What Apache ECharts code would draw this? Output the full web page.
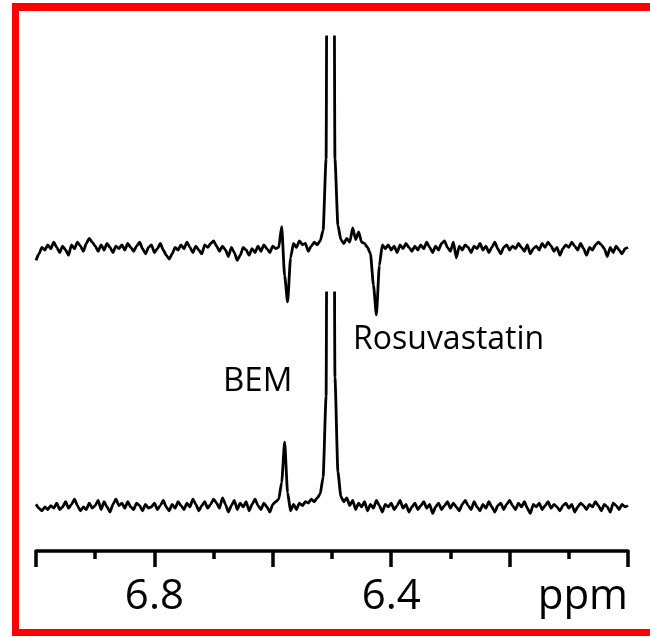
<!DOCTYPE html>
<html lang="en">
<head>
    <meta charset="UTF-8">
    <title>NMR spectra</title>
    <script src="https://cdn.jsdelivr.net/npm/echarts@6/dist/echarts.min.js"></script>
    <style>
        html, body { margin: 0; padding: 0; background: #fff; }
    </style>
</head>
<body>
    <div id="main" style="width: 650px; height: 637px;"></div>
    <script type="text/javascript">
        // chemical shift grid of the spectra (ppm), 0.005 ppm per point from 7.0 down to 6.0
        var ppmStart = 7.0
        var ppmStep = 0.005

        // upper spectrum (intensity, arbitrary units)
        var topSpectrum = [
            -8, -3, 2, 0, 4, 1, 6, 2, -2, 3,
            0, -4, 4, 1, 6, 3, -1, 5, 9, 6,
            3, -1, 4, 0, 5, 2, -2, 3, 1, 4,
            0, 5, 2, -1, 3, 6, 1, -3, 2, 4,
            -2, 1, 5, 0, -4, -7, -3, 2, 0, 4,
            1, 6, 2, -2, 3, 0, -3, 4, 2, 5,
            7, 3, -1, 3, 0, -5, 2, -2, -8, -4,
            2, 0, -4, 1, -2, 3, -1, 4, 1, -2,
            3, 1, 2, 18, -20, -40, -6, 5, 2, 7,
            4, 5, -1, 3, 6, 4, 7, 15, 70, 900,
            900, 70, 19, 8, 5, 9, 6, 17, 8, 14,
            6, 5, 2, -3, -27, -50, -12, 4, 1, 4,
            0, 3, -2, 4, 1, 5, 2, -1, 3, 0,
            4, 1, 6, 2, -2, 3, 0, 5, 7, 2,
            -1, 6, -6, 3, 0, 4, 2, -2, 3, 1,
            5, 0, 3, -2, 2, 6, 1, -3, 2, 4,
            0, 3, 1, 5, 2, -1, 4, -3, 1, 3,
            0, 5, 2, 6, 3, -1, 2, -4, 1, 4,
            2, 6, 3, 0, 5, 1, -4, 2, 0, 4,
            6, 4, 1, -5, 2, -2, 3, 0, -3, 1,
            2
        ]

        // lower spectrum
        var bottomSpectrum = [
            2, -1, -3, 0, -2, 1, -1, 3, -2, 0,
            4, -1, 2, 6, 1, -3, 0, -2, 3, -1,
            1, 5, -2, 4, 0, -4, 2, 6, 1, 3,
            -1, 4, 0, -2, 3, 1, -3, 2, -1, 0,
            3, -2, 1, 5, 0, -3, 2, -1, 4, 1,
            -2, 3, 0, 6, 2, -3, 1, 4, -1, 2,
            6, 3, -1, 7, 2, -4, 1, 5, -2, 3,
            0, 4, -3, 2, 6, 1, -2, 3, 0, -4,
            2, 4, 6, 19, 50, 11, -3, 2, -2, 3,
            1, 4, 3, 6, 4, 7, 10, 23, 85, 900,
            900, 100, 27, 8, 4, 7, 1, 5, -2, 3,
            0, 4, -3, 2, -1, 5, 1, -4, 2, 0,
            3, -2, 1, 5, -1, 2, -4, 0, 3, -2,
            1, 4, -1, 2, -5, 0, 3, -2, 1, 4,
            -1, 3, 0, -3, 2, 5, 1, -2, 4, 0,
            -3, 2, -1, 4, 0, -4, 1, 3, -2, 2,
            5, 1, -2, 3, 0, 4, -1, -5, 2, 0,
            3, -2, 1, 4, -1, 2, 0, -3, 1, 3,
            -1, 2, -4, 0, 3, 1, -2, 2, 0, 4,
            1, -3, 2, 0, -4, 3, 1, -2, 2, 0,
            1
        ]

        var tickLabels = { '6.8': '6.8', '6.4': '6.4', '6.0': 'ppm' }
        var peakNames = ['Rosuvastatin', 'BEM']

        function toPairs(arr) {
            return arr.map(function (v, i) {
                return [+(ppmStart - i * ppmStep).toFixed(3), v]
            })
        }

        var myChart = echarts.init(document.getElementById('main'))
        var font = '"Open Sans", "Liberation Sans", sans-serif'

        var option = {
            animation: false,
            backgroundColor: '#ffffff',
            grid: [
                { left: 36, right: 22, top: 37, height: 300 },
                { left: 36, right: 22, top: 293, height: 258 }
            ],
            xAxis: [
                {
                    gridIndex: 0, type: 'value', min: 6.0, max: 7.0, inverse: true, show: false
                },
                {
                    gridIndex: 1, type: 'value', min: 6.0, max: 7.0, interval: 0.2, inverse: true,
                    axisLine: { show: true, onZero: false, lineStyle: { color: '#000', width: 3.5 } },
                    axisTick: { show: true, length: 16, lineStyle: { color: '#000', width: 3.5 } },
                    minorTick: { show: true, splitNumber: 2, length: 8, lineStyle: { color: '#000', width: 3.5 } },
                    splitLine: { show: false },
                    axisLabel: {
                        show: true,
                        margin: 25,
                        color: '#000',
                        fontSize: 42,
                        fontFamily: font,
                        showMinLabel: true,
                        showMaxLabel: true,
                        alignMinLabel: 'right',
                        formatter: function (v) {
                            return tickLabels[v.toFixed(1)] || ''
                        }
                    }
                }
            ],
            yAxis: [
                { gridIndex: 0, type: 'value', min: -67, max: 164, show: false },
                { gridIndex: 1, type: 'value', min: -34, max: 165, show: false }
            ],
            graphic: [
                { type: 'rect', shape: { x: 12, y: 3, width: 7, height: 633 }, style: { fill: '#ff0000' } },
                { type: 'rect', shape: { x: 12, y: 3, width: 638, height: 8 }, style: { fill: '#ff0000' } },
                { type: 'rect', shape: { x: 12, y: 629, width: 638, height: 7 }, style: { fill: '#ff0000' } },
                {
                    type: 'text', left: 353, top: 324,
                    style: { text: peakNames[0], font: '32px ' + font, fill: '#000' }
                },
                {
                    type: 'text', left: 223, top: 365,
                    style: { text: peakNames[1], font: '33px ' + font, fill: '#000' }
                }
            ],
            series: [
                {
                    type: 'line', xAxisIndex: 0, yAxisIndex: 0,
                    data: toPairs(topSpectrum),
                    showSymbol: false, symbol: 'none', clip: true,
                    smooth: 0.2, smoothMonotone: 'x',
                    lineStyle: { color: '#000', width: 2.8 }
                },
                {
                    type: 'line', xAxisIndex: 1, yAxisIndex: 1,
                    data: toPairs(bottomSpectrum),
                    showSymbol: false, symbol: 'none', clip: true,
                    smooth: 0.2, smoothMonotone: 'x',
                    lineStyle: { color: '#000', width: 2.8 }
                }
            ]
        }
        myChart.setOption(option)
    </script>
</body>
</html>
